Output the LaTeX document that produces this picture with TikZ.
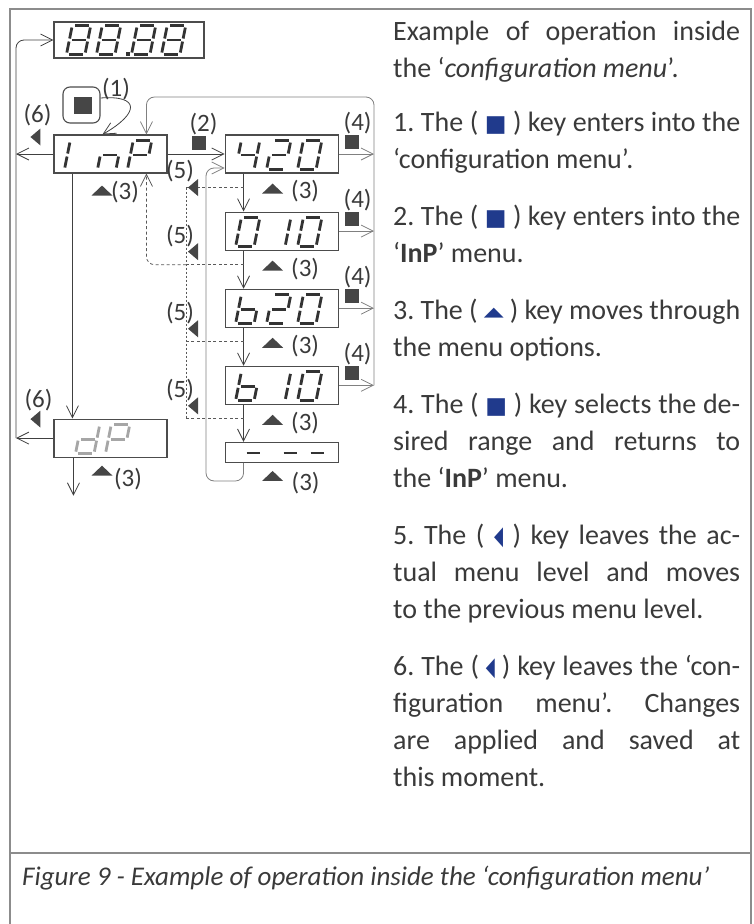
\documentclass[tikz,border=0pt]{standalone}
\usepackage{fontspec}
\usepackage{graphicx}
\setmainfont{Carlito}
\newfontfamily\symfont{DejaVu Sans}
\usetikzlibrary{arrows.meta,positioning}
\definecolor{ink}{RGB}{58,58,58}
\definecolor{keyfill}{RGB}{70,70,70}
\definecolor{keyblue}{RGB}{32,58,140}
\frenchspacing

\newcommand\keysq{{\symfont\fontsize{23}{23}\selectfont\textcolor{keyblue}{■}}}
\newcommand\keyup{{\symfont\fontsize{26}{26}\selectfont\textcolor{keyblue}{\raisebox{3pt}{\scalebox{1}[0.5]{▲}}}}}
\newcommand\keyleft{{\symfont\fontsize{26}{26}\selectfont\textcolor{keyblue}{\scalebox{0.45}[1]{◀}}}}

% seven segment digit: box, x offset, segments, extra style
\newcommand\segdigit[4]{%
  \begin{scope}[shift={(#1.south west)},shift={(#2,-4)},xslant=0.2]
    \coordinate (sa1) at (2.5,-29);   \coordinate (sa2) at (16.5,-29);
    \coordinate (sb1) at (18.5,-27);  \coordinate (sb2) at (18.5,-16);
    \coordinate (sc1) at (18.5,-13);  \coordinate (sc2) at (18.5,-2);
    \coordinate (sd1) at (2.5,0);     \coordinate (sd2) at (16.5,0);
    \coordinate (se1) at (0,-2);      \coordinate (se2) at (0,-13);
    \coordinate (sf1) at (0,-16);     \coordinate (sf2) at (0,-27);
    \coordinate (sg1) at (2.5,-14.5); \coordinate (sg2) at (16.5,-14.5);
    \edef\seglist{#3}%
    \foreach \s in \seglist {\draw[seg,#4] (s\s1) -- (s\s2);}
  \end{scope}}

\begin{document}
\begin{tikzpicture}[x=1pt,y=-1pt,
  frame/.style={draw=black!45,line width=1.3pt},
  disp/.style={draw=black!70,line width=1.1pt,minimum width=113pt,minimum height=38pt,inner sep=0pt},
  seg/.style={line width=2.8pt,draw=black!80},
  dim/.style={draw=black!35},
  ar/.style={-{Straight Barb[length=12pt,width=12pt]},draw=black!75,line width=0.8pt},
  lite/.style={draw=black!50},
  retline/.style={draw=black!65,line width=0.8pt,dash pattern=on 3pt off 2.5pt},
  retpath/.style={ar,draw=black!65,dash pattern=on 3pt off 2.5pt},
  lbl/.style={font=\fontsize{25}{25}\selectfont,text=ink,inner sep=0pt},
  txt/.style={anchor=base west,text width=347pt,align=justify,inner sep=0pt,
    font=\fontsize{28}{37}\selectfont,text=ink},
  upkey/.pic={\fill[keyfill] (-10.5,5) -- (0,-5) -- (10.5,5) -- cycle;},
  leftkey/.pic={\fill[keyfill] (-5,0) -- (5,-8.5) -- (5,8.5) -- cycle;},
  setkey/.pic={\fill[keyfill] (-7,-7) rectangle (7,7);}]
\useasboundingbox (0,0) rectangle (754,924);
\draw[frame] (10,924) -- (10,9) -- (751,9) -- (751,924);
\draw[frame] (10,853) -- (751,853);

% displays
\node[disp,minimum width=150pt,minimum height=36pt] (main) at (129,40) {};
\node[disp] (inp) at (110.5,154) {};
\node[disp,right=57pt of inp] (b420) {};
\node[disp,below=38pt of b420] (b010) {};
\node[disp,below=38pt of b010] (b20) {};
\node[disp,below=38pt of b20] (b10) {};
\node[disp,minimum height=20pt,below=37pt of b10] (bdash) {};
\node[disp,below=245pt of inp] (dp) {};

\segdigit{main}{13}{a,b,c,d,e,f,g}{}
\segdigit{main}{43}{a,b,c,d,e,f,g}{}
\segdigit{main}{78}{a,b,c,d,e,f,g}{}
\segdigit{main}{108}{a,b,c,d,e,f,g}{}
\fill[black!80] ([shift={(73,-3)}]main.south west) rectangle +(3.5,-3.5);
\segdigit{inp}{11}{e,f}{}
\segdigit{inp}{44}{c,e,g}{}
\segdigit{inp}{74}{a,b,e,f,g}{}
\segdigit{b420}{11}{b,c,f,g}{}
\segdigit{b420}{42}{a,b,g,e,d}{}
\segdigit{b420}{73}{a,b,c,d,e,f}{}
\segdigit{b010}{11}{a,b,c,d,e,f}{}
\segdigit{b010}{42}{b,c}{}
\segdigit{b010}{73}{a,b,c,d,e,f}{}
\segdigit{b20}{11}{c,d,e,f,g}{}
\segdigit{b20}{42}{a,b,g,e,d}{}
\segdigit{b20}{73}{a,b,c,d,e,f}{}
\segdigit{b10}{11}{c,d,e,f,g}{}
\segdigit{b10}{42}{b,c}{}
\segdigit{b10}{73}{a,b,c,d,e,f}{}
\segdigit{dp}{22}{b,c,d,e,g}{dim}
\segdigit{dp}{52}{a,b,e,f,g}{dim}
\foreach \dx in {22,59,86}
  \draw[seg] ([shift={(\dx,-10)}]bdash.south west) -- ++(13,0);

% key (1)
\node[draw=black!70,line width=1.1pt,rounded corners=7pt,minimum width=37pt,minimum height=36pt] (btn) at (81.5,105) {};
\node[fill=keyfill,minimum width=18pt,minimum height=17pt,inner sep=0pt] (btnsq) at (83,105.5) {};
\node[lbl] (l1) at (116,89) {(1)};
\draw[ar] ([yshift=7pt]btn.east) .. controls (140,95) and (140,113) .. ([xshift=49pt]inp.north west);

% leaving to the main display (6)
\coordinate (lbus) at (16,0);
\draw[ar] (inp.west) -- (inp.west -| lbus);
\draw[ar] (dp.west) -- (dp.west -| lbus);
\draw[ar,rounded corners=8pt] (dp.west -| lbus) -- (main.west -| lbus) -- (main.west);
\pic at ([shift={(-18,-17)}]inp.west) {leftkey};
\node[lbl] (esc1) at ([shift={(-16,-39)}]inp.west) {(6)};
\pic at ([shift={(-18,-19)}]dp.west) {leftkey};
\node[lbl] (esc2) at ([shift={(-15,-38)}]dp.west) {(6)};

% into InP options (2)
\draw[ar] (inp.east) -- (b420.west);
\pic at ([shift={(31.5,-11)}]inp.east) {setkey};
\node[lbl] (l2) at ([shift={(36,-30)}]inp.east) {(2)};

% select and return (4)
\coordinate (rbus) at (374,0);
\coordinate (looptop) at (0,97);
\coordinate (inptop) at ([xshift=93pt]inp.north west);
\coordinate (inpbot) at ([xshift=93pt]inp.south west);
\foreach \b in {b420,b010,b20,b10} {
  \draw[ar,lite] (\b.east) -- (\b.east -| rbus);
  \pic at ([shift={(13,-12)}]\b.east) {setkey};
  \node[lbl] (sel\b) at ([shift={(19,-31)}]\b.east) {(4)};
}
\draw[ar,lite,rounded corners=8pt] (b10.east -| rbus) -- (rbus |- looptop) -- (inptop |- looptop) -- (inptop);

% options column (3)
\foreach \a/\b in {b420/b010,b010/b20,b20/b10,b10/bdash}
  \draw[ar] ([xshift=19pt]\a.south west) -- ([xshift=19pt]\b.north west);
\coordinate (loopx) at (206,0);
\coordinate (lp) at ([shift={(19,18)}]bdash.south west);
\coordinate (in420) at ([yshift=-14pt]b420.west);
\draw[ar,lite,rounded corners=8pt] ([xshift=19pt]bdash.south west) -- (lp) -- (lp -| loopx) -- (loopx |- in420) -- (in420);
\foreach \b in {b420,b010,b20,b10} {
  \pic at ([shift={(-9,15)}]\b.south) {upkey};
  \node[lbl] (nx\b) at ([shift={(23.5,18)}]\b.south) {(3)};
}
\pic at ([shift={(-9,13)}]bdash.south) {upkey};
\node[lbl] (nxdash) at ([shift={(24,20)}]bdash.south) {(3)};
\pic at ([shift={(-8.5,17)}]inp.south) {upkey};
\node[lbl] (nxinp) at ([shift={(14.5,19)}]inp.south) {(3)};
\coordinate (inpx) at ([xshift=19pt]inp.south west);
\draw[ar] (inpx) -- (inpx |- dp.north);
\coordinate (dpout) at ([shift={(20,38)}]dp.south west);
\draw[ar] ([xshift=20pt]dp.south west) -- (dpout);
\pic at ([shift={(-8.5,13)}]dp.south) {upkey};
\node[lbl] (nxdp) at ([shift={(17.5,21)}]dp.south) {(3)};

% back to InP (5)
\coordinate (dotx) at (186,0);
\foreach \b/\ty in {b420/0,b010/13,b20/13,b10/13} {
  \coordinate (esc\b) at ([shift={(19,14)}]\b.south west);
  \draw[retline] (esc\b) -- (esc\b -| dotx);
  \pic at ([shift={(7,-\ty)}]esc\b -| dotx) {leftkey};
  \node[lbl] (back\b) at ([shift={(-6,-\ty-16)}]esc\b -| dotx) {(5)};
}
\draw[retline,dash pattern=on 2pt off 2pt] (escb420 -| dotx) -- (escb10 -| dotx);
\draw[retpath,rounded corners=8pt] (escb010 -| dotx) -- (escb010 -| inpbot) -- (inpbot);

% explanation
\node[txt] (intro) at (393,40) {Example of operation inside\linebreak the ‘\textit{configuration menu}’.};
\node[txt] (step1) at (393,131) {\hangindent=35pt\hangafter=1\relax 1. The ( \keysq\ ) key enters into the\linebreak ‘configuration menu’.};
\node[txt] (step2) at (393,225) {\hangindent=35pt\hangafter=1\relax 2. The ( \keysq\ ) key enters into the\linebreak ‘\textbf{InP}’ menu.};
\node[txt] (step3) at (393,319) {\hangindent=35pt\hangafter=1\relax 3. The ( \keyup\ ) key moves through\linebreak the menu options.};
\node[txt] (step4) at (393,413) {\hangindent=35pt\hangafter=1\relax 4. The ( \keysq\ ) key selects the de-\linebreak sired range and returns to\linebreak the ‘\textbf{InP}’ menu.};
\node[txt] (step5) at (393,544) {\hangindent=35pt\hangafter=1\relax 5. The ( \keyleft\ ) key leaves the ac-\linebreak tual menu level and moves\linebreak to the previous menu level.};
\node[txt] (step6) at (393,675) {\hangindent=35pt\hangafter=1\relax 6. The ( \keyleft\ ) key leaves the ‘con-\linebreak figuration menu’. Changes\linebreak are applied and saved at\linebreak this moment.};
\node[anchor=base west,inner sep=0pt,font=\fontsize{27}{27}\selectfont\itshape,text=ink] (caption) at (22,885) {Figure 9 - Example of operation inside the ‘configuration menu’};
\end{tikzpicture}
\end{document}
